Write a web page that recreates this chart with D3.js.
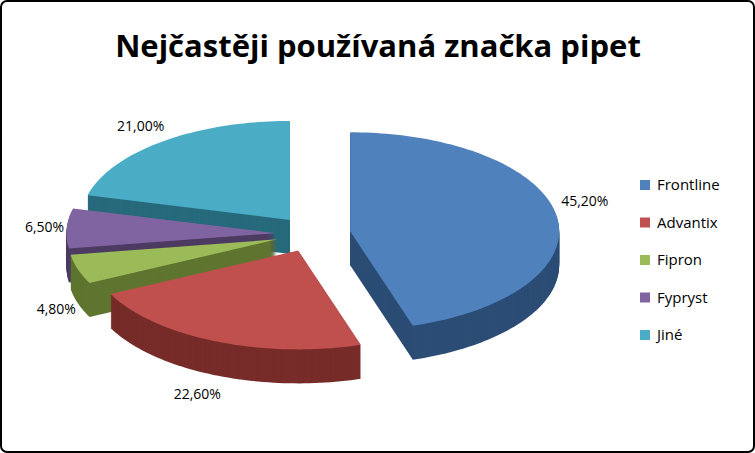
<!DOCTYPE html><html><head><meta charset="utf-8">
<script src="https://cdn.jsdelivr.net/npm/d3@7"></script>
<style>body{margin:0;background:#fff}</style></head><body>
<svg id="c" width="755" height="453"></svg>
<script>
const categories=["Frontline","Advantix","Fipron","Fypryst","Jiné"];
const values=[45.2,22.6,4.8,6.5,21.0];
const labels=["45,20%","22,60%","4,80%","6,50%","21,00%"];
const colors=["#4f81bd","#c0504d","#9bbb59","#8064a2","#4bacc6"];
const sides=["#2c4d75","#772c2a","#5f7530","#4d3b62","#276a7c"];
const svg=d3.select("#c");
const font="'Open Sans','DejaVu Sans',sans-serif";
svg.append("rect").attr("x",1).attr("y",1).attr("width",753).attr("height",451).attr("rx",6).attr("fill","#fff").attr("stroke","#000").attr("stroke-width",2);
svg.append("text").attr("x",378).attr("y",57).attr("text-anchor","middle").attr("font-family",font).attr("font-weight","bold").attr("font-size",31).text("Nejčastěji používaná značka pipet");
const cx=313,cy=234,rx=209,ry=99,depth=34,f=0.18;
const arcs=d3.pie().sort(null).value(d=>d)(values);
const pt=(a,r=1)=>[rx*r*Math.sin(a),-ry*r*Math.cos(a)];
const line=d3.line();
const order=arcs.map((a,i)=>i).sort((i,j)=>-Math.cos((arcs[i].startAngle+arcs[i].endAngle)/2)+Math.cos((arcs[j].startAngle+arcs[j].endAngle)/2));
order.forEach(i=>{
 const a=arcs[i],mid=(a.startAngle+a.endAngle)/2;
 const [ox,oy]=pt(mid,f);
 const pts=[[0,0]];
 const n=Math.max(8,Math.ceil((a.endAngle-a.startAngle)*40));
 d3.range(n+1).forEach(k=>pts.push(pt(a.startAngle+(a.endAngle-a.startAngle)*k/n)));
 const g=svg.append("g").attr("transform",`translate(${cx+ox},${cy+oy})`);
 for(let d=depth;d>0;d-=1) g.append("path").attr("d",line(pts)+"Z").attr("transform",`translate(0,${d})`).attr("fill",sides[i]);
 g.append("path").attr("d",line(pts)+"Z").attr("fill",colors[i]);
 const s=Math.sin(mid),c=Math.cos(mid);
 const lx=rx*(1.06+f)*s, ly=-ry*(1.2+f)*c;
 svg.append("text").attr("x",cx+lx+(s>0.3?-8:s<-0.3?10:0)).attr("y",cy+ly+(c<0?depth:0)+(s>0.9?-12:0)+5)
  .attr("text-anchor",s>0.3?"start":s<-0.3?"end":"middle").attr("font-family",font).attr("font-size",14).text(labels[i]);
});
const ly=d3.scalePoint().domain(categories).range([185,335]);
categories.forEach((c,i)=>{
 svg.append("rect").attr("x",640).attr("y",ly(c)-5).attr("width",10).attr("height",10).attr("fill",colors[i]);
 svg.append("text").attr("x",657).attr("y",ly(c)+5).attr("font-family",font).attr("font-size",15).text(c);
});
</script></body></html>
